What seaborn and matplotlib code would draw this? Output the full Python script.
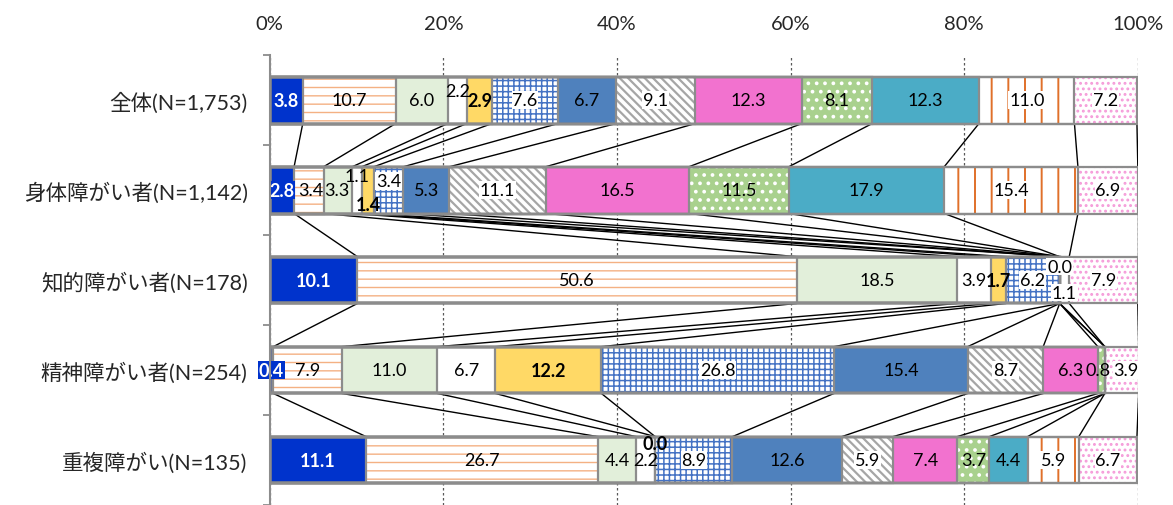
import numpy as np
import matplotlib.pyplot as plt
import seaborn as sns

# categories (top to bottom)
cats = ['全体(N=1,753)', '身体障がい者(N=1,142)', '知的障がい者(N=178)',
        '精神障がい者(N=254)', '重複障がい(N=135)']

# percentages for the 13 stacked segments, one list per group
zentai = [3.8, 10.7, 6.0, 2.2, 2.9, 7.6, 6.7, 9.1, 12.3, 8.1, 12.3, 11.0, 7.2]
shintai = [2.8, 3.4, 3.3, 1.1, 1.4, 3.4, 5.3, 11.1, 16.5, 11.5, 17.9, 15.4, 6.9]
chiteki = [10.1, 50.6, 18.5, 3.9, 1.7, 6.2, 0.0, 0.0, 0.0, 0.0, 0.0, 1.1, 7.9]
seishin = [0.4, 7.9, 11.0, 6.7, 12.2, 26.8, 15.4, 8.7, 6.3, 0.8, 0.0, 0.0, 3.9]
choufuku = [11.1, 26.7, 4.4, 2.2, 0.0, 8.9, 12.6, 5.9, 7.4, 3.7, 4.4, 5.9, 6.7]

xticks = [0, 20, 40, 60, 80, 100]
xtick_labels = ['0%', '20%', '40%', '60%', '80%', '100%']

# segment styles
face = ['#0033CC', 'white', '#E2EFDA', 'white', '#FFD966', 'white', '#4F81BD',
        'white', '#F272CF', '#A9D18E', '#4BACC6', 'white', 'white']
hatch = [None, '--', None, None, None, '+++', None, '\\\\\\\\', None, '..', None, '|', '...']
hcol = [None, '#F4B183', None, None, None, '#4472C4', None, '#A6A6A6', None,
        'white', None, '#E0702A', '#F59BD9']
hlw = [1, 1.0, 1, 1, 1, 1.1, 1, 1.6, 1, 1.5, 1, 1.4, 1.3]

# zero values that still carry a label, and label nudges
zero_shown = [(2, 7), (4, 4)]
dy = {(0, 3): -0.1, (1, 3): -0.16, (1, 4): 0.16, (1, 5): -0.1,
      (2, 7): -0.15, (2, 11): 0.14, (4, 4): -0.18}
dx = {(3, 9): -0.4, (3, 12): 0.5, (1, 1): 0.2, (1, 2): -0.1}

sns.set_theme(style='white')
plt.rcParams['font.family'] = ['Lato', 'Noto Sans CJK JP', 'DejaVu Sans']

data = np.array([zentai, shintai, chiteki, seishin, choufuku])
cum = data.cumsum(axis=1)
left = cum - data
n = data.shape[1]
h = 0.52

fig = plt.figure(figsize=(11.73, 5.06), dpi=100)
ax = fig.add_axes([0.230, 0.0, 0.740, 0.889])

# stacked bars: draw cumulative totals from the last segment down
for j in range(n - 1, -1, -1):
    kw = dict(x=cum[:, j], y=cats, orient='h', width=h, saturation=1,
              color=face[j], ax=ax, zorder=2)
    if hatch[j]:
        kw.update(hatch=hatch[j], edgecolor=hcol[j], linewidth=0)
    else:
        kw.update(edgecolor=face[j], linewidth=0)
    with plt.rc_context({'hatch.linewidth': hlw[j]}):
        sns.barplot(**kw)

# gray outlines
for j in range(n - 1, -1, -1):
    sns.barplot(x=cum[:, j], y=cats, orient='h', width=h, fill=False,
                color='#8C8C8C', linewidth=1.6, ax=ax, zorder=3)

# series lines between bars
for i in range(len(cats) - 1):
    for j in range(n):
        ax.plot([cum[i, j], cum[i + 1, j]], [i + h / 2, i + 1 - h / 2],
                color='black', lw=1.0, zorder=1)

# data labels
for i in range(len(cats)):
    for j in range(n):
        v = data[i, j]
        if v == 0 and (i, j) not in zero_shown:
            continue
        x = left[i, j] + v / 2 + dx.get((i, j), 0)
        y = i + dy.get((i, j), 0)
        kw = dict(ha='center', va='center', fontsize=13, color='black', zorder=5)
        if j == 0:
            kw.update(color='white', fontweight='bold',
                      bbox=dict(facecolor=face[0], edgecolor='none', pad=0.5))
        elif j == 4:
            kw.update(fontweight='bold')
        elif j in (5, 7, 11, 12):
            kw.update(bbox=dict(facecolor='white', edgecolor='none', pad=0.5))
        ax.text(x, y, f'{v:.1f}', **kw)

ax.set_xlim(0, 100)
ax.set_ylim(len(cats) - 0.5, -0.5)
ax.set_xticks(xticks)
ax.set_xticklabels(xtick_labels)
ax.xaxis.tick_top()
ax.tick_params(axis='x', length=0, pad=17, labelsize=14.5, colors='#262626')
ax.set_yticks(range(len(cats)))
ax.set_yticklabels(cats)
ax.set_yticks(np.arange(-0.5, len(cats), 1), minor=True)
ax.tick_params(axis='y', which='major', length=0, pad=16, labelsize=15.5, colors='#262626')
ax.tick_params(axis='y', which='minor', left=True, length=5, width=1.3, color='#8C8C8C')
ax.set_xlabel('')
ax.set_ylabel('')
ax.xaxis.grid(True, linestyle=(0, (2, 2)), color='#595959', lw=0.9)
ax.set_axisbelow(True)
for s in ['top', 'right', 'bottom']:
    ax.spines[s].set_visible(False)
ax.spines['left'].set_color('#8C8C8C')
ax.spines['left'].set_linewidth(1.5)
ax.spines['left'].set_zorder(6)

fig.savefig('out.png', dpi=100)
